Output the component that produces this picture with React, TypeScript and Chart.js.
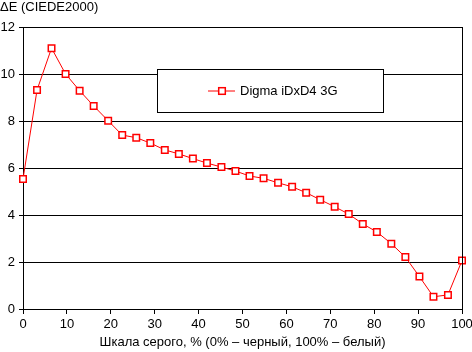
import React, { useEffect, useRef } from "react";
import { Chart, registerables } from "chart.js";

Chart.register(...registerables);

const grayPercent = [0, 3.2, 6.5, 9.7, 12.9, 16.1, 19.4, 22.6, 25.8, 29.0, 32.3, 35.5, 38.7, 41.9, 45.2, 48.4, 51.6, 54.8, 58.1, 61.3, 64.5, 67.7, 71.0, 74.2, 77.4, 80.6, 83.9, 87.1, 90.3, 93.5, 96.8, 100];
const deltaE = [5.53, 9.32, 11.1, 10.0, 9.29, 8.64, 8.01, 7.4, 7.29, 7.06, 6.77, 6.6, 6.4, 6.21, 6.04, 5.87, 5.66, 5.56, 5.37, 5.2, 4.95, 4.65, 4.35, 4.04, 3.62, 3.28, 2.78, 2.21, 1.38, 0.52, 0.6, 2.06];
const seriesName = "Digma iDxD4 3G";
const yTitle = "ΔE (CIEDE2000)";
const xTitle = "Шкала серого, % (0% – черный, 100% – белый)";

const RED = "#ff0000";
const FONT = '"Liberation Sans", Arial, sans-serif';

export default function App() {
  const ref = useRef<HTMLCanvasElement | null>(null);

  useEffect(() => {
    document.body.style.margin = "0";
    const canvas = ref.current;
    if (!canvas) return;
    Chart.defaults.font.family = FONT;
    Chart.defaults.font.size = 13;
    Chart.defaults.color = "#000";

    const overlay = {
      id: "overlay",
      afterDraw(chart: any) {
        const ctx = chart.ctx;
        const a = chart.chartArea;
        ctx.save();
        // right border
        ctx.strokeStyle = "#000";
        ctx.lineWidth = 1;
        ctx.beginPath();
        ctx.moveTo(Math.round(a.right) + 0.5, a.top);
        ctx.lineTo(Math.round(a.right) + 0.5, a.bottom);
        ctx.stroke();
        // y title
        ctx.fillStyle = "#000";
        ctx.font = "13px " + FONT;
        ctx.textBaseline = "middle";
        ctx.textAlign = "left";
        ctx.fillText(yTitle, 0, 7);
        // legend box
        const bx = 157.5, by = 69.5, bw = 226, bh = 43;
        ctx.fillStyle = "#fff";
        ctx.fillRect(bx, by, bw, bh);
        ctx.strokeStyle = "#000";
        ctx.lineWidth = 1;
        ctx.strokeRect(bx, by, bw, bh);
        const cy = by + bh / 2;
        ctx.strokeStyle = RED;
        ctx.lineWidth = 1;
        ctx.beginPath();
        ctx.moveTo(208, cy);
        ctx.lineTo(235, cy);
        ctx.stroke();
        const s = 3.3;
        ctx.fillStyle = "#fff";
        ctx.fillRect(222 - s, cy - s, 2 * s, 2 * s);
        ctx.lineWidth = 1.5;
        ctx.strokeRect(222 - s, cy - s, 2 * s, 2 * s);
        ctx.fillStyle = "#000";
        ctx.textAlign = "left";
        ctx.fillText(seriesName, 240, cy);
        ctx.restore();
      },
    };

    const chart = new Chart(canvas, {
      type: "line",
      data: {
        datasets: [
          {
            label: seriesName,
            data: grayPercent.map((x, i) => ({ x, y: deltaE[i] })),
            borderColor: RED,
            borderWidth: 1,
            pointStyle: "rect",
            pointRadius: 4.6,
            pointBorderWidth: 1.5,
            pointBackgroundColor: "#fff",
            pointBorderColor: RED,
            tension: 0,
            clip: false as any,
          },
        ],
      },
      options: {
        animation: false,
        responsive: false,
        layout: { padding: { top: 27, right: 10, left: 0, bottom: 0 } },
        plugins: {
          legend: { display: false },
          tooltip: { enabled: false },
          title: { display: false },
        },
        scales: {
          x: {
            type: "linear",
            min: 0,
            max: 100,
            ticks: { stepSize: 10, padding: 3, color: "#000", font: { size: 13 } },
            grid: { drawOnChartArea: false, drawTicks: true, tickLength: 5, color: "#000" },
            border: { display: true, color: "#000", width: 1 },
            title: { display: true, text: xTitle, color: "#000", font: { size: 13 }, padding: { top: 0, bottom: 2 } },
            afterFit: (scale: any) => {
              scale.height = 43;
              scale.paddingRight = 0;
              scale.paddingLeft = 0;
            },
          },
          y: {
            type: "linear",
            min: 0,
            max: 12,
            ticks: { stepSize: 2, padding: 4, color: "#000", font: { size: 13 } },
            grid: { color: "#000", lineWidth: 1, drawTicks: true, tickLength: 4 },
            border: { display: true, color: "#000", width: 1 },
            afterFit: (scale: any) => {
              scale.width = 23;
              scale.paddingTop = 0;
              scale.paddingBottom = 0;
            },
          },
        },
      },
      plugins: [overlay],
    });
    return () => chart.destroy();
  }, []);

  return (
    <div style={{ position: "absolute", left: 0, top: 0, width: 472, height: 352, background: "#fff" }}>
      <canvas ref={ref} width={472} height={352} style={{ display: "block" }} />
    </div>
  );
}
